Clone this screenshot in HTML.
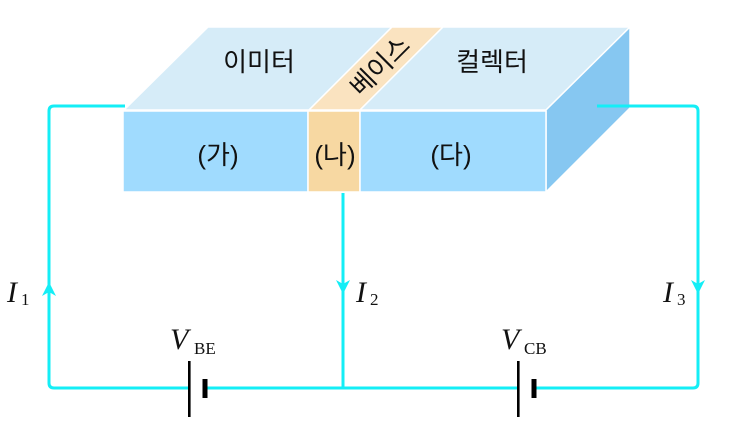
<!DOCTYPE html>
<html><head><meta charset="utf-8"><style>
html,body{margin:0;padding:0;background:#fff;}
svg{display:block;}
.k{font-family:"Liberation Sans","Noto Sans CJK KR",sans-serif;font-size:26px;fill:#111;}
.m{font-family:"Liberation Serif",serif;fill:#111;}
</style></head><body>
<svg width="742" height="423" viewBox="0 0 742 423" xmlns="http://www.w3.org/2000/svg">
<!-- block -->
<g stroke="#fff" stroke-width="1.5" stroke-linejoin="round">
<polygon points="124,110 208,27 392,27 309,110" fill="#d6ecf8"/>
<polygon points="309,110 392,27 443,27 360,110" fill="#fae3c0"/>
<polygon points="360,110 443,27 630,27 546,110" fill="#d6ecf8"/>
<polygon points="546,110 630,27 630,108 546,192" fill="#86c7f1"/>
<rect x="123" y="111" width="185" height="81" fill="#a0dbfe"/>
<rect x="308" y="111" width="52" height="81" fill="#f7d8a2"/>
<rect x="360" y="111" width="186" height="81" fill="#a0dbfe"/>
</g>
<text class="k" x="259" y="71" text-anchor="middle">이미터</text>
<text class="k" x="492" y="71" text-anchor="middle">컬렉터</text>
<text class="k" transform="translate(380,66) rotate(-45)" x="0" y="9" text-anchor="middle">베이스</text>
<text class="k" x="218" y="164" text-anchor="middle">(가)</text>
<text class="k" x="335" y="164" text-anchor="middle">(나)</text>
<text class="k" x="451" y="164" text-anchor="middle">(다)</text>
<!-- wires -->
<g fill="none" stroke="#14eef6" stroke-width="3">
<path d="M125,106 H54 Q49,106 49,111 V383 Q49,388 54,388 H189"/>
<path d="M597,106 H693 Q698,106 698,111 V383 Q698,388 693,388 H535"/>
<path d="M343,193 V388"/>
<path d="M205,388 H518"/>
</g>
<g fill="#14eef6">
<path d="M49,282 L56,296 L49,292 L42,296 Z"/>
<path d="M343,294 L350,280 L343,284 L336,280 Z"/>
<path d="M698,294 L705,280 L698,284 L691,280 Z"/>
</g>
<!-- batteries -->
<g fill="#000">
<rect x="188" y="361" width="2.6" height="56"/>
<rect x="202.5" y="379" width="5" height="19"/>
<rect x="517" y="361" width="2.6" height="56"/>
<rect x="531.5" y="379" width="5" height="19"/>
</g>
<!-- labels -->
<text class="m" x="7" y="302" font-size="30" font-style="italic">I</text>
<text class="m" x="21" y="305" font-size="17">1</text>
<text class="m" x="356" y="302" font-size="30" font-style="italic">I</text>
<text class="m" x="370" y="305" font-size="17">2</text>
<text class="m" x="663" y="302" font-size="30" font-style="italic">I</text>
<text class="m" x="677" y="305" font-size="17">3</text>
<text class="m" x="170" y="349" font-size="30" font-style="italic">V</text>
<text class="m" x="194" y="354" font-size="17">BE</text>
<text class="m" x="501" y="349" font-size="30" font-style="italic">V</text>
<text class="m" x="524" y="354" font-size="17">CB</text>
</svg>
</body></html>
